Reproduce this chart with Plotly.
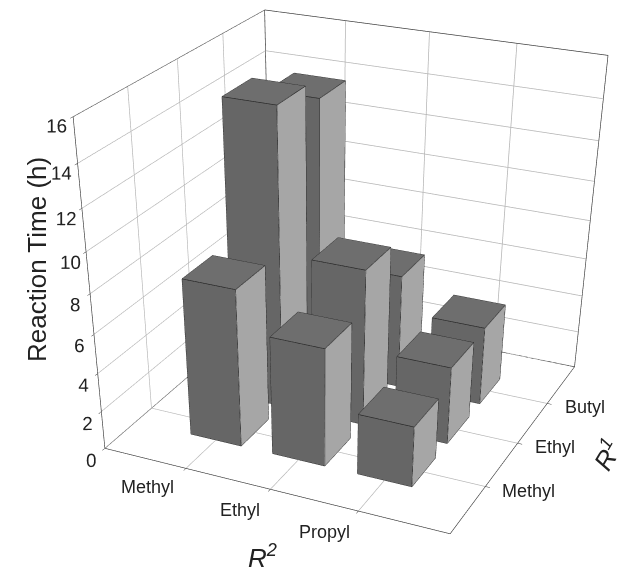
import plotly.graph_objects as go

r2_labels = ["Methyl", "Ethyl", "Propyl"]
r1_labels = ["Methyl", "Ethyl", "Butyl"]
r2_pos = [1, 2, 3]
r1_pos = [1, 2, 3]
z_ticks = [0, 2, 4, 6, 8, 10, 12, 14, 16]
# rows: R1 Methyl, Ethyl, Butyl; columns: R2 Methyl, Ethyl, Propyl
heights = [
    [8.1, 6.1, 3.15],
    [15.1, 8.1, 4.05],
    [14.1, 6.0, 4.15],
]
half_x = 0.31
half_y = 0.33
x_range = [0, 4]
y_range = [0, 4]
z_range = [0, 16]
DARK = "#666666"
TOP = "#6e6e6e"
LIGHT = "#a6a6a6"
W = 628
H = 1300  # lens length of the 3D view follows the scene height; lower part lies outside the window
# page pixel centres of the category labels (the page body adds 8 px on each side)
r2_label_px = [(139, 479), (232, 502), (316, 524)]
r1_label_px = [(520, 483), (547, 439), (577, 399)]

fig = go.Figure()

x0r, x1r = x_range
y0r, y1r = y_range
z0r, z1r = z_range
ex = [x0r, x0r, x0r, None, x0r, x1r, x1r, None, x0r, x0r, None, x0r, x0r, x1r]
ey = [y0r, y0r, y1r, None, y1r, y1r, y1r, None, y1r, y1r, None, y0r, y1r, y1r]
ez = [z0r, z1r, z1r, None, z1r, z1r, z0r, None, z0r, z1r, None, z0r, z0r, z0r]
fig.add_trace(go.Scatter3d(x=ex, y=ey, z=ez, mode="lines", line=dict(color="#333333", width=1.3),
                           hoverinfo="skip", showlegend=False))

def add_bar(cx, cy, h):
    x0, x1 = cx - half_x, cx + half_x
    y0, y1 = cy - half_y, cy + half_y
    xs = [x0, x1, x1, x0, x0, x1, x1, x0]
    ys = [y0, y0, y1, y1, y0, y0, y1, y1]
    zs = [0, 0, 0, 0, h, h, h, h]
    quads = [(0, 1, 5, 4, DARK), (1, 2, 6, 5, LIGHT), (4, 5, 6, 7, TOP),
             (3, 2, 6, 7, DARK), (0, 3, 7, 4, DARK), (0, 1, 2, 3, DARK)]
    i, j, k, fc = [], [], [], []
    for a, b, c, d, col in quads:
        i += [a, a]; j += [b, c]; k += [c, d]; fc += [col, col]
    fig.add_trace(go.Mesh3d(x=xs, y=ys, z=zs, i=i, j=j, k=k, facecolor=fc, flatshading=True,
                            lighting=dict(ambient=1, diffuse=0, specular=0, roughness=1, fresnel=0),
                            hoverinfo="skip", showscale=False))
    lx = [x0, x1, x1, x0, x0, None, x0, x1, x1, None, x1, x1, None, x0, x0, None, x1, x1]
    ly = [y0, y0, y1, y1, y0, None, y0, y0, y0, None, y0, y1, None, y0, y0, None, y1, y1]
    lz = [h, h, h, h, h, None, 0, 0, h, None, 0, 0, None, 0, h, None, 0, h]
    fig.add_trace(go.Scatter3d(x=lx, y=ly, z=lz, mode="lines", line=dict(color="#222222", width=1.3),
                               hoverinfo="skip", showlegend=False))

for r, row in enumerate(heights):
    for c, h in enumerate(row):
        add_bar(r2_pos[c], r1_pos[r], h)

axis_common = dict(showbackground=False, showgrid=True, gridcolor="#b4b4b4", gridwidth=1.5,
                   zeroline=False, showspikes=False, showline=True, linecolor="#333333", linewidth=1.3,
                   ticks="outside", ticklen=4, tickcolor="#333333", title=dict(text=""), tickangle=0,
                   tickfont=dict(family="Liberation Sans, Arial", size=15, color="#222222"))

def note(text, px, py, size, angle=0):
    return dict(text=text, x=px / W, y=1 - py / H, xref="paper", yref="paper", showarrow=False,
                xanchor="center", yanchor="middle",
                textangle=angle, font=dict(family="Liberation Sans, Arial", size=size, color="#222222"))

category_notes = [note(t, *p, 18) for t, p in zip(r2_labels + r1_labels, r2_label_px + r1_label_px)]

fig.update_layout(
    width=W, height=H, showlegend=False, paper_bgcolor="white",
    margin=dict(l=0, r=0, t=0, b=0),
    scene=dict(
        domain=dict(x=[0, 1], y=[0, 1]),
        xaxis=dict(axis_common, range=x_range, tickmode="array", tickvals=r2_pos, ticktext=r2_labels,
                   showticklabels=False),
        yaxis=dict(axis_common, range=y_range, tickmode="array", tickvals=r1_pos, ticktext=r1_labels,
                   showticklabels=False),
        zaxis=dict(axis_common, range=z_range, tickmode="array", tickvals=z_ticks,
                   ticktext=[str(v) for v in z_ticks]),
        aspectmode="manual", aspectratio=dict(x=1, y=1, z=0.892),
        camera=dict(eye=dict(x=1.61, y=-3.613, z=1.674), center=dict(x=0.427, y=-1.094, z=-0.448),
                    up=dict(x=0, y=0, z=1), projection=dict(type="perspective")),
    ),
    annotations=[
        note("Reaction Time (h)", 29, 252, 26, -90),
        note("<i>R<sup>2</sup></i>", 254, 548, 26),
        note("<i>R<sup>1</sup></i>", 598, 447, 26, -60),
    ] + category_notes,
)
fig.write_html("out.html")
